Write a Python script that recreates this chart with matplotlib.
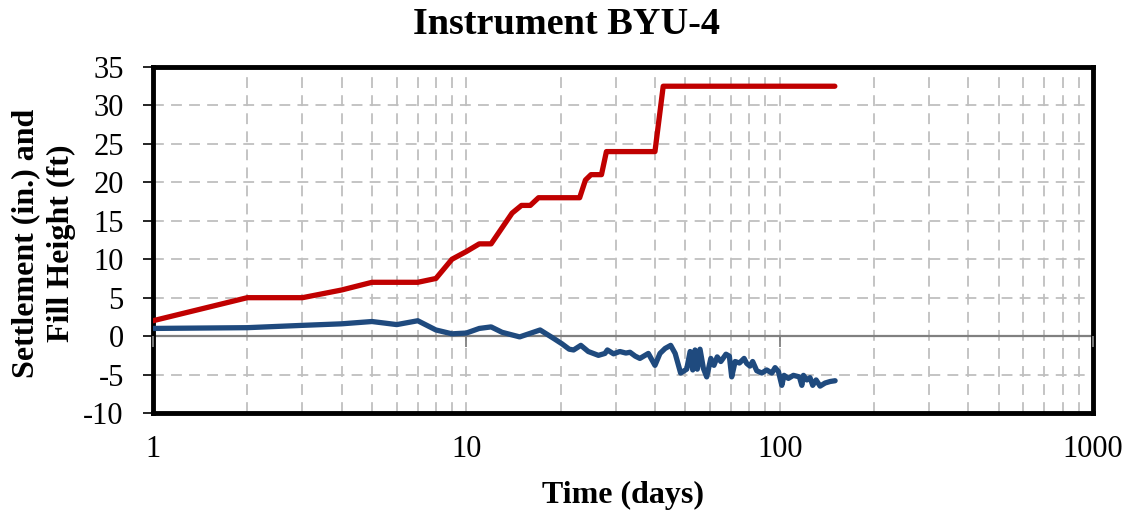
import numpy as np
import matplotlib.pyplot as plt
from matplotlib.ticker import LogLocator, FixedLocator, NullFormatter

plt.rcParams['font.family'] = ['Liberation Serif', 'DejaVu Serif']
plt.rcParams['axes.unicode_minus'] = False

# fill height (ft) vs time (days)
fill_days = [1, 2, 3, 4, 5, 7, 8, 9, 10, 11, 12, 14, 15, 16, 17, 23, 24, 25, 27, 28, 40, 42.5, 150]
fill_ft = [2, 5, 5, 6, 7, 7, 7.5, 10, 11, 12, 12, 16, 17, 17, 18, 18, 20.3, 21, 21, 24, 24, 32.5, 32.5]

# settlement (in.) vs time (days)
settle_days = [1, 2, 3, 4, 5, 6, 7, 8, 9, 10, 11, 12, 13, 14.8, 17.2, 19.0, 20.2, 21.3, 22.0,
               23.2, 24.5, 26.4, 27.7, 28.2, 29.5, 30.9, 32.3, 33.3, 34.6, 35.8, 38.1, 40.0,
               41.5, 43.1, 44.9, 46.4, 48.3, 50.5, 51.8, 52.8, 53.7, 54.6, 55.7, 57.1, 58.5,
               60.3, 61.7, 63.2, 64.9, 67.4, 69.1, 70.3, 72.1, 74.4, 77.0, 78.5, 80.4, 82.0,
               84.5, 87.7, 90.9, 94.4, 96.7, 99.1, 101.6, 103.3, 106.6, 110.6, 115.6, 117.7,
               119.1, 122.1, 125.0, 127.5, 130.7, 134.6, 139.6, 144.9, 150.3]
settle_in = [1.0, 1.1, 1.4, 1.6, 1.9, 1.5, 2.0, 0.8, 0.3, 0.4, 1.0, 1.2, 0.5, -0.1, 0.8, -0.3,
             -1.0, -1.7, -1.8, -1.2, -2.0, -2.5, -2.25, -1.8, -2.3, -2.0, -2.2, -2.1, -2.6,
             -2.9, -2.25, -3.8, -2.25, -1.6, -1.2, -2.25, -4.8, -4.3, -2.0, -4.4, -1.8, -4.3,
             -1.7, -4.2, -5.3, -2.9, -3.8, -2.7, -3.3, -2.35, -2.6, -5.3, -3.3, -3.5, -2.9,
             -3.55, -3.9, -3.3, -4.5, -4.8, -4.4, -4.8, -4.1, -4.6, -6.4, -5.1, -5.5, -5.1,
             -5.3, -6.4, -5.1, -5.7, -5.4, -6.4, -5.7, -6.5, -6.1, -5.9, -5.8]

yticks = list(range(-10, 36, 5))
xticks = [1, 10, 100, 1000]

fig = plt.figure(figsize=(11.33, 5.19), dpi=100)
ax = fig.add_axes([0.135, 0.2042, 0.8297, 0.6667])

ax.set_xscale('log')
ax.set_xlim(1, 1000)
ax.set_ylim(-10, 35)

ax.grid(True, which='both', axis='x', color='#BFBFBF', ls=(0, (6, 4)), lw=1.3)
ax.grid(True, which='major', axis='y', color='#BFBFBF', ls=(0, (6, 4)), lw=1.3)
ax.set_axisbelow(True)

ax.axhline(0, color='#808080', lw=1.6, zorder=2)

ax.plot(fill_days, fill_ft, color='#C00000', lw=3.8, zorder=4, solid_capstyle='round')
ax.plot(settle_days, settle_in, color='#1F4A7E', lw=3.8, zorder=3, solid_capstyle='round',
        solid_joinstyle='round')

ax.xaxis.set_major_locator(FixedLocator(xticks))
ax.xaxis.set_minor_locator(LogLocator(base=10, subs=np.arange(2, 10)))
ax.xaxis.set_minor_formatter(NullFormatter())
ax.set_xticklabels([str(t) for t in xticks])
ax.tick_params(axis='x', which='both', length=0, labelsize=22, pad=16)
ax.set_yticks(yticks)
ax.tick_params(axis='y', which='major', length=7, width=1.2, labelsize=22, direction='out', pad=14)

for s in ax.spines.values():
    s.set_linewidth(3.5)
    s.set_color('black')

# small ticks on the zero line
ax2 = ax.twiny()
ax2.set_xscale('log')
ax2.set_xlim(1, 1000)
ax2.spines['bottom'].set_position(('data', 0))
ax2.spines['bottom'].set_visible(False)
for k in ['top', 'left', 'right']:
    ax2.spines[k].set_visible(False)
ax2.xaxis.set_ticks_position('bottom')
ax2.xaxis.set_major_locator(FixedLocator(xticks))
ax2.xaxis.set_minor_locator(FixedLocator([]))
ax2.tick_params(axis='x', which='major', length=8, width=1.3, color='#808080',
                labelbottom=False, labeltop=False, direction='out')

fig.text(0.5, 0.953, 'Instrument BYU-4', fontsize=27.5, fontweight='bold', ha='center', va='center')
ax.set_xlabel('Time (days)', fontsize=23, fontweight='bold', labelpad=12)
ax.set_ylabel('Settlement (in.) and\nFill Height (ft)', fontsize=23, fontweight='bold',
              linespacing=1.3)
ax.yaxis.set_label_coords(-0.082, 0.49)

fig.savefig('out.png', dpi=100)
